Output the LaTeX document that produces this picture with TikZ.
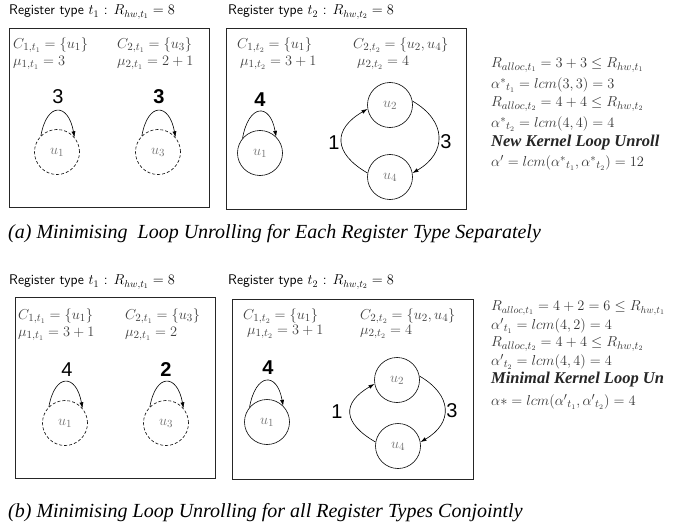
\documentclass[tikz,border=0pt]{standalone}
\usepackage{fontspec}
\usetikzlibrary{arrows.meta}
\newfontfamily\lblfont{Liberation Sans}
\newfontfamily\capfont{Liberation Serif}
\begin{document}
\begin{tikzpicture}[x=1pt,y=1pt,
  frame/.style={draw=black!85,line width=0.8pt},
  hdr/.style={anchor=west,inner sep=0pt,font=\fontsize{14}{16}\selectfont},
  txt/.style={anchor=west,inner sep=0pt,text=black!75,font=\fontsize{15}{17}\selectfont},
  rtxt/.style={anchor=west,inner sep=0pt,text=black!80,font=\fontsize{15}{17}\selectfont},
  vtx/.style={circle,draw,line width=0.6pt,minimum size=45pt,inner sep=0pt,text=black!55,font=\fontsize{15}{17}\selectfont},
  dvtx/.style={vtx,dash pattern=on 3pt off 2pt},
  arc/.style={line width=0.6pt,-{Latex[length=6pt,width=4pt]}},
  elab/.style={inner sep=0pt,font=\lblfont\fontsize{20}{22}\selectfont},
  belab/.style={inner sep=0pt,font=\lblfont\bfseries\fontsize{20}{22}\selectfont},
  captxt/.style={anchor=west,inner sep=0pt,font=\capfont\itshape\fontsize{20}{22}\selectfont},
  boldtxt/.style={anchor=west,inner sep=0pt,text=black!85,font=\capfont\bfseries\itshape\fontsize{16.5}{18}\selectfont}
]
\useasboundingbox (0,0) rectangle (673,-527);

% ---------------- (a) ----------------
\node[hdr] (ha1) at (9,-12) {\sffamily Register type $t_1$ : $R_{hw,t_1}=8$};
\node[hdr] (ha2) at (228,-12) {\sffamily Register type $t_2$ : $R_{hw,t_2}=8$};
\draw[frame] (9,-28) rectangle (209,-207);
\draw[frame] (226,-28) rectangle (466,-209);

\node[txt] (ac11) at (13,-45) {$C_{1,t_1}=\{u_1\}$};
\node[txt] (am11) at (13,-63) {$\mu_{1,t_1}=3$};
\node[txt] (ac21) at (117,-45) {$C_{2,t_1}=\{u_3\}$};
\node[txt] (am21) at (117,-63) {$\mu_{2,t_1}=2+1$};
\node[dvtx] (au1) at (57,-152) {$u_1$};
\node[dvtx] (au3) at (158,-152) {$u_3$};
\draw[arc] (au1.135) .. controls +(80:35) and +(100:35) .. (au1.40);
\draw[arc] (au3.135) .. controls +(80:35) and +(100:35) .. (au3.40);
\node[elab] (al1) at (58,-97) {3};
\node[belab] (al3) at (159,-97) {3};

\node[txt] (ac12) at (237,-45) {$C_{1,t_2}=\{u_1\}$};
\node[txt] (am12) at (240,-63) {$\mu_{1,t_2}=3+1$};
\node[txt] (ac22) at (353,-45) {$C_{2,t_2}=\{u_2,u_4\}$};
\node[txt] (am22) at (357,-63) {$\mu_{2,t_2}=4$};
\node[vtx] (bu1) at (260,-153) {$u_1$};
\node[vtx] (bu2) at (390,-105) {$u_2$};
\node[vtx] (bu4) at (390,-177) {$u_4$};
\draw[arc] (bu1.140) .. controls +(80:35) and +(100:35) .. (bu1.45);
\node[belab] (bl4) at (260,-100) {4};
\draw[arc] (bu4.170) .. controls +(150:40) and +(210:40) .. (bu2.190);
\draw[arc] (bu2.10) .. controls +(-30:40) and +(30:40) .. (bu4.10);
\node[elab] (bl1) at (334,-143) {1};
\node[elab] (bl3) at (446,-142) {3};

\node[rtxt] (ar1) at (491,-65) {$R_{alloc,t_1}=3+3\leq R_{hw,t_1}$};
\node[rtxt] (ar2) at (491,-85) {${\alpha^*}_{t_1}=lcm(3,3)=3$};
\node[rtxt] (ar3) at (491,-104) {$R_{alloc,t_2}=4+4\leq R_{hw,t_2}$};
\node[rtxt] (ar4) at (491,-124) {${\alpha^*}_{t_2}=lcm(4,4)=4$};
\node[boldtxt] (ar5) at (491,-143) {New Kernel Loop Unroll};
\node[rtxt] (ar6) at (491,-163) {$\alpha'=lcm({\alpha^*}_{t_1},{\alpha^*}_{t_2})=12$};

\node[captxt] (capa) at (8,-234) {(a) Minimising\ \ Loop Unrolling for Each Register Type Separately};

% ---------------- (b) ----------------
\node[hdr] (hb1) at (9,-282) {\sffamily Register type $t_1$ : $R_{hw,t_1}=8$};
\node[hdr] (hb2) at (228,-282) {\sffamily Register type $t_2$ : $R_{hw,t_2}=8$};
\draw[frame] (15,-297) rectangle (215,-478);
\draw[frame] (232,-299) rectangle (473,-479);

\node[txt] (cc11) at (18,-316) {$C_{1,t_1}=\{u_1\}$};
\node[txt] (cm11) at (18,-334) {$\mu_{1,t_1}=3+1$};
\node[txt] (cc21) at (125,-316) {$C_{2,t_1}=\{u_3\}$};
\node[txt] (cm21) at (125,-334) {$\mu_{2,t_1}=2$};
\node[dvtx] (cu1) at (65,-423) {$u_1$};
\node[dvtx] (cu3) at (166,-423) {$u_3$};
\draw[arc] (cu1.135) .. controls +(80:35) and +(100:35) .. (cu1.40);
\draw[arc] (cu3.135) .. controls +(80:35) and +(100:35) .. (cu3.40);
\node[elab] (cl4) at (67,-370) {4};
\node[belab] (cl2) at (166,-370) {2};

\node[txt] (dc12) at (243,-316) {$C_{1,t_2}=\{u_1\}$};
\node[txt] (dm12) at (247,-332) {$\mu_{1,t_2}=3+1$};
\node[txt] (dc22) at (360,-316) {$C_{2,t_2}=\{u_2,u_4\}$};
\node[txt] (dm22) at (360,-332) {$\mu_{2,t_2}=4$};
\node[vtx] (du1) at (267,-422) {$u_1$};
\node[vtx] (du2) at (397,-380) {$u_2$};
\node[vtx] (du4) at (398,-446) {$u_4$};
\draw[arc] (du1.140) .. controls +(80:35) and +(100:35) .. (du1.45);
\node[belab] (dl4) at (268,-368) {4};
\draw[arc] (du4.170) .. controls +(150:38) and +(210:38) .. (du2.190);
\draw[arc] (du2.10) .. controls +(-30:38) and +(30:38) .. (du4.10);
\node[elab] (dl1) at (337,-412) {1};
\node[elab] (dl3) at (452,-411) {3};

\node[rtxt,font=\fontsize{14}{16}\selectfont] (dr1) at (491,-308) {$R_{alloc,t_1}=4+2=6\leq R_{hw,t_1}$};
\node[rtxt] (dr2) at (491,-326) {${\alpha'}_{t_1}=lcm(4,2)=4$};
\node[rtxt] (dr3) at (491,-344) {$R_{alloc,t_2}=4+4\leq R_{hw,t_2}$};
\node[rtxt] (dr4) at (491,-362) {${\alpha'}_{t_2}=lcm(4,4)=4$};
\node[boldtxt] (dr5) at (491,-380) {Minimal Kernel Loop Un};
\node[rtxt] (dr6) at (491,-402) {$\alpha*=lcm({\alpha'}_{t_1},{\alpha'}_{t_2})=4$};

\node[captxt] (capb) at (8,-513) {(b) Minimising Loop Unrolling for all Register Types Conjointly};
\end{tikzpicture}
\end{document}
